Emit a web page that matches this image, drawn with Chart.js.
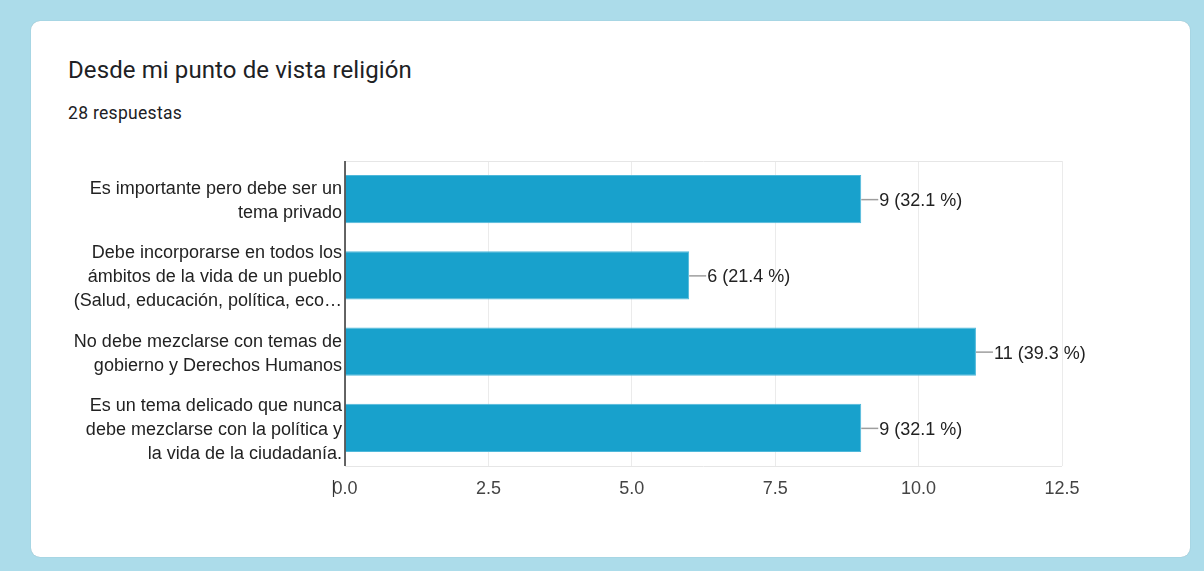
<!DOCTYPE html>
<html><head><meta charset="utf-8">
<script src="https://cdn.jsdelivr.net/npm/chart.js@4"></script>
<style>
html,body{margin:0;padding:0;width:1204px;height:571px;overflow:hidden;background:#acdcea;}
#card{position:absolute;left:31px;top:21px;width:1159px;height:536px;background:#fff;border-radius:9px;box-shadow:0 0 1px rgba(0,0,0,0.25);}
#title{position:absolute;left:68px;top:56px;font-family:Roboto,"Open Sans",sans-serif;font-size:24px;color:#202124;letter-spacing:0.1px;white-space:nowrap;}
#sub{position:absolute;left:68px;top:103px;font-family:Roboto,sans-serif;font-size:17.5px;color:#202124;letter-spacing:0.3px;white-space:nowrap;}
#wrap{position:absolute;left:0;top:0;width:1204px;height:571px;}
</style></head>
<body>
<div id="card"></div>
<div id="title">Desde mi punto de vista religión</div>
<div id="sub">28 respuestas</div>
<div id="wrap"><canvas id="c"></canvas></div>
<script>
const categories = [
  ["Es importante pero debe ser un", "tema privado"],
  ["Debe incorporarse en todos los", "ámbitos de la vida de un pueblo", "(Salud, educación, política, eco…"],
  ["No debe mezclarse con temas de", "gobierno y Derechos Humanos"],
  ["Es un tema delicado que nunca", "debe mezclarse con la política y", "la vida de la ciudadanía."]
];
const counts = [9, 6, 11, 9];
const percents = ["32.1", "21.4", "39.3", "32.1"];
const xTicks = [0, 2.5, 5, 7.5, 10, 12.5];

const FONT = '"Liberation Sans", Arial, sans-serif';

const labelPlugin = {
  id: 'leaderLabels',
  afterDatasetsDraw(chart) {
    const ctx = chart.ctx;
    const meta = chart.getDatasetMeta(0);
    ctx.save();
    meta.data.forEach((bar, i) => {
      const x = bar.x, y = bar.y;
      ctx.strokeStyle = '#9e9e9e';
      ctx.lineWidth = 1.5;
      ctx.beginPath();
      ctx.moveTo(x, y + 0.5);
      ctx.lineTo(x + 17, y + 0.5);
      ctx.stroke();
      ctx.fillStyle = '#222';
      ctx.font = '18px ' + FONT;
      ctx.textBaseline = 'middle';
      ctx.textAlign = 'left';
      ctx.fillText(counts[i] + ' (' + percents[i] + ' %)', x + 18, y + 2);
    });
    const a = chart.chartArea;
    ctx.strokeStyle = '#e6e6e6';
    ctx.lineWidth = 1;
    ctx.beginPath();
    ctx.moveTo(a.left, a.top + 0.5); ctx.lineTo(a.right, a.top + 0.5);
    ctx.moveTo(a.left, a.bottom + 0.5); ctx.lineTo(a.right, a.bottom + 0.5);
    ctx.stroke();
    ctx.strokeStyle = '#333';
    ctx.lineWidth = 1.5;
    ctx.beginPath();
    ctx.moveTo(a.left, a.top); ctx.lineTo(a.left, a.bottom);
    ctx.stroke();
    ctx.lineWidth = 1.2;
    ctx.beginPath();
    ctx.moveTo(a.left - 11.5, a.bottom + 14); ctx.lineTo(a.left - 11.5, a.bottom + 31);
    ctx.stroke();
    ctx.restore();
  }
};

new Chart(document.getElementById('c'), {
  type: 'bar',
  data: {
    labels: categories,
    datasets: [{
      data: counts,
      backgroundColor: '#18a1cc',
      borderColor: '#4fb8da',
      borderWidth: 1,
      borderSkipped: 'left',
      barPercentage: 0.635,
      categoryPercentage: 1
    }]
  },
  options: {
    indexAxis: 'y',
    responsive: true,
    maintainAspectRatio: false,
    animation: false,
    layout: { padding: { left: 0, top: 161, right: 142, bottom: 65 } },
    plugins: { legend: { display: false }, tooltip: { enabled: false } },
    scales: {
      x: {
        min: 0, max: 12.5,
        afterBuildTicks: (s) => { s.ticks = xTicks.map(v => ({ value: v })); },
        afterFit: (s) => { s.height = 40; },
        grid: { color: '#ebebeb', drawTicks: false, lineWidth: 1 },
        border: { display: false },
        ticks: {
          padding: 12,
          color: '#444',
          font: { family: FONT, size: 18 },
          callback: (v) => Number(v).toFixed(1)
        }
      },
      y: {
        afterFit: (s) => { s.width = 345; },
        grid: { display: false, drawTicks: false },
        border: { display: false },
        ticks: {
          padding: 3,
          labelOffset: 2,
          color: '#222',
          font: { family: FONT, size: 18, lineHeight: 1.33 }
        }
      }
    }
  },
  plugins: [labelPlugin]
});
</script>
</body></html>
